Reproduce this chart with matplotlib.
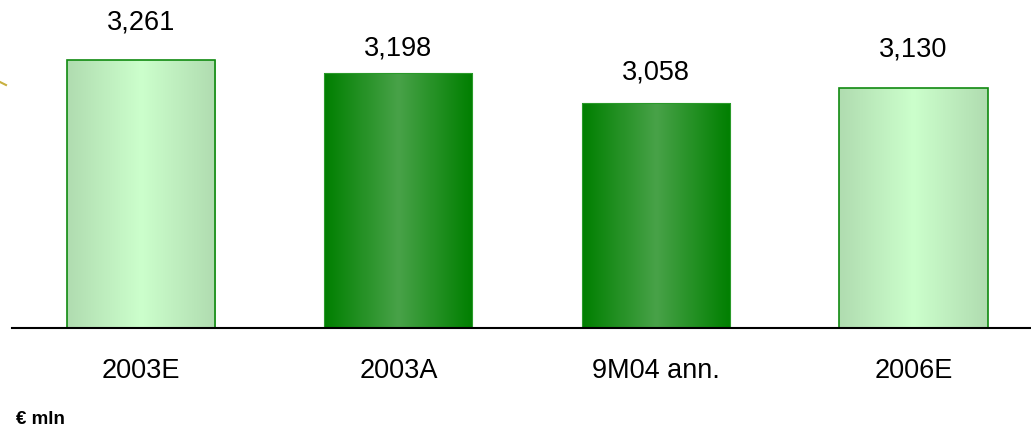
import matplotlib
matplotlib.use("Agg")
import matplotlib.pyplot as plt
import numpy as np
from matplotlib.colors import LinearSegmentedColormap
from matplotlib.patches import Rectangle

plt.rcParams['font.family'] = ['Liberation Sans', 'DejaVu Sans']

categories = ["2003E", "2003A", "9M04 ann.", "2006E"]
values = [3261, 3198, 3058, 3130]
labels = ["3,261", "3,198", "3,058", "3,130"]
is_estimate = [True, False, False, True]

# label offsets above the bar top (points), placed by hand in the original
label_offsets = [18, 9, 13, 18.5]

light = LinearSegmentedColormap.from_list("light", ["#b0dcb0", "#ccffcc", "#b0dcb0"])
dark = LinearSegmentedColormap.from_list("dark", ["#007f00", "#48a248", "#007f00"])

fig = plt.figure(figsize=(10.31, 4.27), dpi=100)
ax = fig.add_axes([12 / 1031, 98 / 427, 1 - 12 / 1031, 329 / 427])
ax.set_xlim(-0.5, 3.456)
ax.set_ylim(1989, 3550)

width = 0.575
grad = np.linspace(0, 1, 256).reshape(1, -1)
for i, (v, est) in enumerate(zip(values, is_estimate)):
    x0 = i - width / 2
    img = ax.imshow(grad, cmap=light if est else dark, aspect="auto",
                    extent=(x0, x0 + width, 1989, v), zorder=2)
    rect = Rectangle((x0, 1989), width, v - 1989, facecolor="none",
                     edgecolor="#108a10" if est else "#2a9a2a",
                     linewidth=1.2 if est else 0.8, zorder=3)
    ax.add_patch(rect)
    img.set_clip_path(rect)
    ax.annotate(labels[i], (i, v), xytext=(0, label_offsets[i]),
                textcoords="offset points", ha="center", va="bottom", fontsize=19.5)

ax.axhline(1989, color="black", linewidth=1.5, zorder=4, clip_on=False)
ax.set_xticks(range(len(categories)))
ax.set_xticklabels(categories, fontsize=19.5)
ax.tick_params(axis="x", length=0, pad=21)
ax.set_yticks([])
for s in ax.spines.values():
    s.set_visible(False)

fig.text(16 / 1031, 1 - 420 / 427, "€ mln", fontsize=13.5, fontweight="bold", va="center")
fig.add_artist(plt.Line2D([0, 6 / 1031], [1 - 83 / 427, 1 - 86 / 427],
                          color="#c8b040", linewidth=1.5))

fig.savefig("out.png", dpi=100)
